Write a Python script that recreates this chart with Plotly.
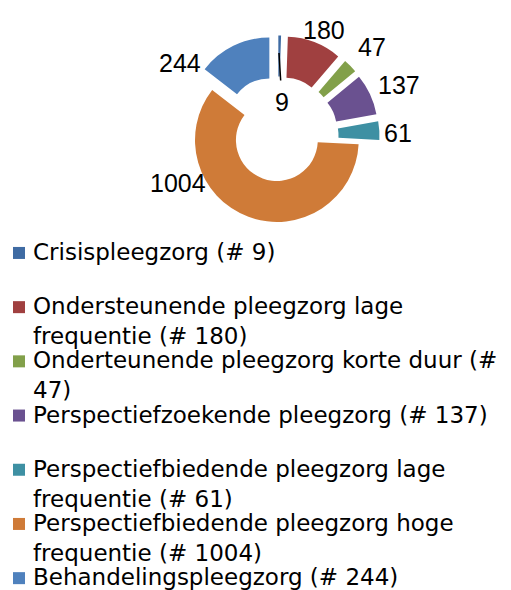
import plotly.graph_objects as go

labels = [
    "Crisispleegzorg (# 9)",
    "Ondersteunende pleegzorg lage<br>frequentie (# 180)",
    "Onderteunende pleegzorg korte duur (#<br>47)",
    "Perspectiefzoekende pleegzorg (# 137)",
    "Perspectiefbiedende pleegzorg lage<br>frequentie (# 61)",
    "Perspectiefbiedende pleegzorg hoge<br>frequentie (# 1004)",
    "Behandelingspleegzorg (# 244)",
]
values = [9, 180, 47, 137, 61, 1004, 244]
colors = ["#3F6BA3", "#A04040", "#82A04A", "#6A5190", "#3E90A3", "#CF7B38", "#4F81BD"]
pulls = [0.24, 0.24, 0.24, 0.24, 0.24, 0.04, 0.24]

# positions (pixels from top-left) of the value labels, as in the reference
label_pos = [(282, 102), (324, 30), (372, 47), (399, 85), (398, 133), (178, 183), (180, 63)]

W, H = 511, 590
cx, cy, half = 278, 137, 101.5

fig = go.Figure(go.Pie(
    labels=[l.replace("<br>", " ") for l in labels],
    values=values,
    marker=dict(colors=colors, line=dict(width=0)),
    hole=0.5,
    pull=pulls,
    sort=False,
    direction="clockwise",
    rotation=0,
    textinfo="none",
    showlegend=False,
    domain=dict(x=[(cx - half) / W, (cx + half) / W],
                y=[1 - (cy + half) / H, 1 - (cy - half) / H]),
    hoverinfo="label+value",
))

lab_font = dict(family="Liberation Sans", size=25, color="#000000")
for i, (v, (px, py)) in enumerate(zip(values, label_pos)):
    if i == 0:
        fig.add_annotation(
            x=279 / W, y=1 - 53 / H, xref="paper", yref="paper",
            text=str(v), showarrow=True, arrowhead=0, arrowwidth=1.5,
            arrowcolor="#000000", ax=px - 279, ay=py - 53, standoff=0,
            startstandoff=6, font=lab_font,
        )
    else:
        fig.add_annotation(
            x=px / W, y=1 - py / H, xref="paper", yref="paper",
            text=str(v), showarrow=False, xanchor="center", yanchor="middle",
            font=lab_font,
        )

# legend (Excel style: every entry takes two lines, key square beside first line)
leg_top, leg_pitch, leg_fs = 237, 54.2, 23
leg_font = dict(family="DejaVu Sans", size=leg_fs, color="#000000")
for i, (lab, col) in enumerate(zip(labels, colors)):
    top = leg_top + i * leg_pitch
    mid = top + 0.65 * leg_fs * 1.0 + 1
    fig.add_shape(
        type="rect", xref="paper", yref="paper",
        x0=13 / W, x1=25 / W, y0=1 - (mid - 6) / H, y1=1 - (mid + 6) / H,
        fillcolor=col, line=dict(width=0),
    )
    fig.add_annotation(
        x=31 / W, y=1 - top / H, xref="paper", yref="paper",
        text=lab, showarrow=False, xanchor="left", yanchor="top", align="left",
        font=leg_font,
    )

fig.update_layout(
    width=W, height=H,
    margin=dict(l=0, r=0, t=0, b=0, autoexpand=False),
    paper_bgcolor="#FFFFFF",
    showlegend=False,
)

fig.write_html("out.html", config={"displayModeBar": False},
               post_script="document.body.style.margin='0';")
